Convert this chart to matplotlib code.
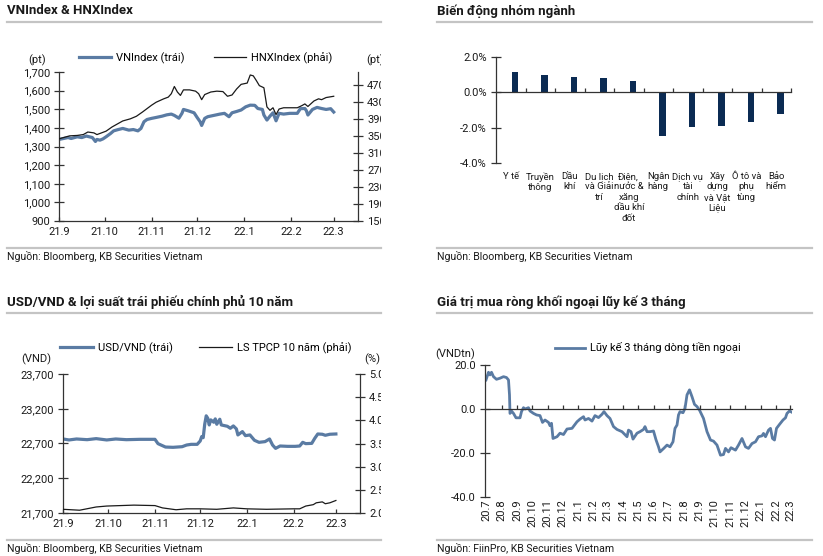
import matplotlib
matplotlib.use("Agg")
import matplotlib.pyplot as plt
import pandas as pd
from matplotlib.lines import Line2D
from matplotlib.transforms import Bbox, TransformedBbox, blended_transform_factory

plt.rcParams["font.family"] = ["Roboto", "DejaVu Sans"]

W, H = 823, 556
BLUE = "#5a7ba3"
NAVY = "#0b2b53"
INK = "#1a1a1a"
RULE = "#c4c4c4"

# --- VNIndex & HNXIndex (days since 2021-09-01) ---
vn_days = [0, 3, 6, 8, 12, 15, 18, 22, 24, 25, 27, 29, 31, 34, 36, 39, 42, 46, 49, 52,
           54, 56, 58, 61, 64, 68, 71, 74, 76, 79, 81, 82, 85, 89, 91, 93, 94, 96, 98, 102,
           106, 109, 112, 114, 117, 120, 123, 126, 129, 131, 134, 135, 137, 139, 141, 143, 145, 148, 152, 157,
           159, 162, 163, 164, 167, 170, 173, 176, 179, 181]
vn_index = [1338, 1343, 1348, 1343, 1352, 1348, 1356, 1348, 1327, 1338, 1334, 1341, 1352, 1370, 1384, 1391, 1397, 1388, 1391, 1384,
            1397, 1433, 1445, 1451, 1456, 1463, 1470, 1474, 1467, 1452, 1478, 1499, 1492, 1481, 1456, 1433, 1413, 1451, 1460, 1467,
            1474, 1478, 1460, 1481, 1488, 1496, 1513, 1522, 1521, 1504, 1499, 1469, 1442, 1463, 1481, 1438, 1478, 1474, 1478, 1478,
            1503, 1504, 1492, 1469, 1499, 1510, 1504, 1499, 1503, 1485]

hnx_days = [0, 4, 7, 12, 16, 19, 23, 25, 28, 31, 35, 38, 42, 47, 51, 55, 58, 61, 64, 69,
            72, 74, 76, 78, 80, 82, 86, 90, 92, 94, 96, 100, 104, 108, 111, 114, 117, 120, 124, 126,
            128, 130, 132, 135, 137, 139, 141, 143, 145, 148, 152, 157, 160, 162, 164, 168, 171, 173, 176, 181]
hnx_index = [343, 347, 350, 351, 353, 359, 357, 353, 357, 361, 371, 377, 385, 390, 396, 406, 414, 422, 429, 437,
             441, 449, 466, 453, 445, 458, 458, 455, 449, 435, 447, 453, 455, 454, 443, 446, 460, 471, 474, 493,
             491, 480, 468, 463, 418, 410, 416, 400, 413, 416, 416, 416, 421, 425, 419, 432, 437, 435, 440, 443]

# --- sector moves ---
sectors = ["Y tế", "Truyền\nthông", "Dầu\nkhí", "Du lịch\nvà Giải\ntrí", "Điện,\nnước &\nxăng\ndầu khí\nđốt",
           "Ngân\nhàng", "Dịch vụ\ntài\nchính", "Xây\ndựng\nvà Vật\nLiệu", "Ô tô và\nphụ\ntùng", "Bảo\nhiểm"]
sector_change = [1.13, 0.96, 0.89, 0.79, 0.66, -2.45, -1.96, -1.89, -1.70, -1.23]

# --- USD/VND & 10Y government bond yield (days since 2021-09-01) ---
fx_days = [0, 4, 9, 16, 22, 29, 35, 42, 51, 61, 63, 65, 68, 73, 79, 82, 85, 89, 91, 92,
           93, 94, 95, 96, 97, 98, 100, 101, 102, 104, 105, 109, 111, 113, 115, 116, 119, 121, 124, 127,
           130, 134, 137, 139, 141, 144, 149, 154, 157, 159, 161, 165, 167, 169, 172, 174, 177, 181]
usd_vnd = [22765, 22751, 22765, 22755, 22770, 22751, 22765, 22755, 22760, 22760, 22698, 22678, 22649, 22645, 22654, 22678, 22688, 22688, 22736, 22799,
           22784, 22977, 23098, 23064, 22967, 23040, 23006, 23054, 22977, 23049, 22967, 22948, 22919, 22953, 22910, 22823, 22871, 22813, 22823, 22746,
           22717, 22727, 22765, 22678, 22630, 22664, 22659, 22659, 22664, 22717, 22698, 22702, 22775, 22837, 22833, 22818, 22833, 22837]

bond_days = [0, 11, 22, 29, 38, 47, 61, 66, 75, 82, 91, 102, 113, 122, 135, 153, 157, 161, 166, 168, 172, 174, 177, 181]
bond_yield = [2.08, 2.06, 2.13, 2.15, 2.16, 2.17, 2.16, 2.11, 2.07, 2.09, 2.09, 2.08, 2.11, 2.09, 2.08, 2.09, 2.09, 2.15, 2.18, 2.22, 2.24, 2.20, 2.22, 2.27]

# --- foreign net buying, rolling 3 months (days since 2020-07-01) ---
flow_days = [0, 5, 8, 11, 15, 21, 28, 35, 41, 45, 47, 48, 51, 55, 60, 68, 71, 75, 78, 85,
             88, 95, 101, 108, 113, 118, 125, 128, 131, 134, 142, 148, 155, 162, 172, 182, 188, 195, 198, 205,
             212, 218, 225, 232, 236, 242, 248, 255, 262, 272, 282, 285, 290, 294, 302, 308, 315, 318, 322, 328,
             335, 340, 345, 348, 355, 362, 368, 374, 378, 382, 385, 388, 394, 398, 402, 407, 412, 417, 422, 427,
             435, 442, 449, 455, 462, 469, 475, 479, 485, 490, 499, 505, 512, 519, 525, 532, 539, 545, 552, 555,
             559, 565, 569, 573, 577, 581, 587, 594, 599, 602, 607, 612]
flow_3m = [13.2, 16.7, 15.5, 16.7, 14.7, 13.5, 14.0, 14.7, 14.3, 13.2, 6.4, -2.0, -0.9, -2.0, -4.0, -4.0, -1.2, 0.6, 0.0, 0.6,
           -0.9, -2.0, -2.7, -3.0, -6.1, -5.0, -6.1, -7.6, -6.5, -13.4, -12.6, -11.0, -11.6, -9.1, -8.8, -5.8, -4.6, -3.5, -5.0, -4.3,
           -5.5, -3.0, -3.9, -2.4, -1.2, -3.0, -4.3, -8.0, -9.3, -10.3, -12.6, -9.6, -10.3, -13.7, -11.0, -10.3, -9.3, -8.0, -10.3, -10.3,
           -10.0, -14.0, -17.2, -19.5, -18.0, -16.4, -17.2, -14.9, -8.8, -7.3, -2.7, -1.2, -1.7, 0.3, 6.4, 8.7, 5.6, 2.1, 1.1, -0.5,
           -4.3, -10.3, -14.1, -14.6, -16.4, -21.0, -20.7, -17.9, -19.5, -17.6, -18.7, -16.4, -13.4, -17.2, -17.9, -15.7, -14.9, -12.6, -12.2, -11.1,
           -12.6, -9.6, -8.8, -13.4, -14.1, -8.8, -7.0, -5.0, -4.0, -2.0, -0.9, -1.5]


def to_dates(start, days):
    return pd.Timestamp(start) + pd.to_timedelta(days, unit="D")


def month_label(d):
    return f"{d.year % 100}.{d.month}"


def px_axes(fig, left, top, right, bottom):
    return fig.add_axes([left / W, 1 - bottom / H, (right - left) / W, (bottom - top) / H])


def fig_text(fig, x, y, s, **kw):
    return fig.text(x / W, 1 - y / H, s, **kw)


def hline(fig, x0, x1, y):
    fig.add_artist(Line2D([x0 / W, x1 / W], [1 - y / H, 1 - y / H], transform=fig.transFigure,
                          color=RULE, lw=1.6))


def clip_right(fig, x):
    return TransformedBbox(Bbox.from_extents(0, 0, x / W, 1), fig.transFigure)


def panel_frame(fig, x0, x1, y_title, title, y_foot, foot):
    fig_text(fig, x0, y_title, title, fontsize=9.5, fontweight="bold", color=INK, va="center")
    hline(fig, x0, x1, y_title + 11)
    hline(fig, x0, x1, y_foot - 8)
    fig_text(fig, x0, y_foot, foot, fontsize=7.6, color=INK, va="center")


def style_axes(ax, left=True, right=False):
    for side in ("top", "right", "left", "bottom"):
        ax.spines[side].set_visible(False)
    ax.spines["bottom"].set_visible(True)
    if left:
        ax.spines["left"].set_visible(True)
    if right:
        ax.spines["right"].set_visible(True)
    for sp in ax.spines.values():
        sp.set_color("#333333")
        sp.set_linewidth(0.9)
    ax.tick_params(axis="y", direction="inout", length=7, width=0.9, color="#333333",
                   labelsize=8, labelcolor=INK, pad=3)
    ax.tick_params(axis="x", direction="in", length=3, width=0.9, color="#333333",
                   labelsize=8, labelcolor=INK, pad=4)
    ax.patch.set_alpha(0)


def plot_indices(fig):
    ax = px_axes(fig, 59, 72, 358, 221)
    style_axes(ax)
    ax.plot(to_dates("2021-09-01", vn_days), vn_index, color=BLUE, lw=2.3, label="VNIndex (trái)")
    ax.set_ylim(900, 1700)
    ax.set_yticks(range(900, 1701, 100))
    ax.set_yticklabels([f"{v:,}" for v in range(900, 1701, 100)])
    months = pd.date_range("2021-09-01", "2022-03-01", freq="MS")
    ax.set_xticks(months)
    ax.set_xticklabels([month_label(d) for d in months])
    ax.set_xlim(pd.Timestamp("2021-09-01"), pd.Timestamp("2022-03-17"))

    ax2 = ax.twinx()
    style_axes(ax2, left=False, right=True)
    ax2.spines["bottom"].set_visible(False)
    ax2.plot(to_dates("2021-09-01", hnx_days), hnx_index, color=INK, lw=0.9, label="HNXIndex (phải)")
    ax2.set_ylim(150, 500)
    ax2.set_yticks(range(150, 471, 40))
    bb = clip_right(fig, 381)
    for lab in ax2.get_yticklabels():
        lab.set_clip_box(bb)
        lab.set_clip_on(True)

    h1, l1 = ax.get_legend_handles_labels()
    h2, l2 = ax2.get_legend_handles_labels()
    ax.legend(h1 + h2, l1 + l2, loc="center", bbox_to_anchor=(0.49, 1.094), ncol=2, frameon=False,
              fontsize=8, handlelength=2.9, handletextpad=0.45, columnspacing=2.6, borderpad=0)

    fig_text(fig, 37, 60, "(pt)", fontsize=8, color=INK, ha="center", va="center")
    t = fig_text(fig, 366, 60, "(pt)", fontsize=8, color=INK, ha="left", va="center")
    t.set_clip_box(bb)
    t.set_clip_on(True)


def plot_sectors(fig):
    ax = px_axes(fig, 496, 57, 791, 163)
    style_axes(ax)
    x = [i + 0.65 for i in range(len(sectors))]
    ax.bar(x, sector_change, width=0.22, color=NAVY)
    ax.set_xlim(0, len(sectors))
    ax.set_ylim(-4, 2)
    ax.set_yticks([-4, -2, 0, 2])
    ax.set_yticklabels([f"{v:.1f}%" for v in [-4, -2, 0, 2]])
    ax.spines["bottom"].set_position(("data", 0))
    ax.set_xticks(range(1, len(sectors) + 1))
    ax.tick_params(axis="x", labelbottom=False)
    tr = blended_transform_factory(ax.transData, ax.transAxes)
    for i, name in enumerate(sectors):
        ax.text(i + 0.5, -0.085, name, transform=tr, ha="center", va="top",
                fontsize=6.8, color=INK, linespacing=1.2)


def plot_fx_bond(fig):
    ax = px_axes(fig, 63, 374, 360, 513)
    style_axes(ax)
    ax.plot(to_dates("2021-09-01", fx_days), usd_vnd, color=BLUE, lw=2.3, label="USD/VND (trái)")
    ax.set_ylim(21700, 23700)
    ax.set_yticks(range(21700, 23701, 500))
    ax.set_yticklabels([f"{v:,}" for v in range(21700, 23701, 500)])
    months = pd.date_range("2021-09-01", "2022-03-01", freq="MS")
    ax.set_xticks(months)
    ax.set_xticklabels([month_label(d) for d in months])
    ax.set_xlim(pd.Timestamp("2021-09-01"), pd.Timestamp("2022-03-17"))

    ax2 = ax.twinx()
    style_axes(ax2, left=False, right=True)
    ax2.spines["bottom"].set_visible(False)
    ax2.plot(to_dates("2021-09-01", bond_days), bond_yield, color=INK, lw=0.9, label="LS TPCP 10 năm (phải)")
    ax2.set_ylim(2.0, 5.0)
    ticks = [2.0, 2.5, 3.0, 3.5, 4.0, 4.5, 5.0]
    ax2.set_yticks(ticks)
    ax2.set_yticklabels([f"{v:.1f}" for v in ticks])
    bb = clip_right(fig, 381)
    for lab in ax2.get_yticklabels():
        lab.set_clip_box(bb)
        lab.set_clip_on(True)

    h1, l1 = ax.get_legend_handles_labels()
    h2, l2 = ax2.get_legend_handles_labels()
    ax.legend(h1 + h2, l1 + l2, loc="center", bbox_to_anchor=(0.48, 1.187), ncol=2, frameon=False,
              fontsize=8, handlelength=3.0, handletextpad=0.4, columnspacing=2.4, borderpad=0)

    fig_text(fig, 36, 359, "(VND)", fontsize=8, color=INK, ha="center", va="center")
    fig_text(fig, 372, 359, "(%)", fontsize=8, color=INK, ha="center", va="center")


def plot_foreign_flow(fig):
    ax = px_axes(fig, 485, 365, 792, 497)
    style_axes(ax)
    ax.plot(to_dates("2020-07-01", flow_days), flow_3m, color=BLUE, lw=2.0,
            label="Lũy kế 3 tháng dòng tiền ngoại")
    ax.set_ylim(-40, 20)
    ax.set_yticks([-40, -20, 0, 20])
    ax.set_yticklabels([f"{v:.1f}" for v in [-40, -20, 0, 20]])
    months = pd.date_range("2020-07-01", "2022-03-01", freq="MS")
    ax.set_xlim(pd.Timestamp("2020-06-29"), pd.Timestamp("2022-03-05"))
    ax.spines["bottom"].set_position(("data", 0))
    ax.set_xticks(months[1:])
    ax.tick_params(axis="x", labelbottom=False)
    tr = blended_transform_factory(ax.transData, ax.transAxes)
    for d in months:
        ax.text(d, -0.015, month_label(d), transform=tr, rotation=90, ha="center", va="top",
                fontsize=8, color=INK)
    ax.legend(loc="center", bbox_to_anchor=(0.53, 1.129), frameon=False, fontsize=8,
              handlelength=2.7, handletextpad=0.4, borderpad=0)
    fig_text(fig, 455, 354, "(VNDtn)", fontsize=8, color=INK, ha="center", va="center")


def main():
    fig = plt.figure(figsize=(W / 100, H / 100), dpi=100)
    fig.patch.set_facecolor("white")

    panel_frame(fig, 7, 381, 11, "VNIndex & HNXIndex", 256, "Nguồn: Bloomberg, KB Securities Vietnam")
    panel_frame(fig, 437, 812, 11, "Biến động nhóm ngành", 256, "Nguồn: Bloomberg, KB Securities Vietnam")
    panel_frame(fig, 7, 381, 302, "USD/VND & lợi suất trái phiếu chính phủ 10 năm", 548,
                "Nguồn: Bloomberg, KB Securities Vietnam")
    panel_frame(fig, 437, 812, 302, "Giá trị mua ròng khối ngoại lũy kế 3 tháng", 548,
                "Nguồn: FiinPro, KB Securities Vietnam")

    plot_indices(fig)
    plot_sectors(fig)
    plot_fx_bond(fig)
    plot_foreign_flow(fig)

    fig.savefig("out.png", dpi=100, facecolor="white")


if __name__ == "__main__":
    main()
